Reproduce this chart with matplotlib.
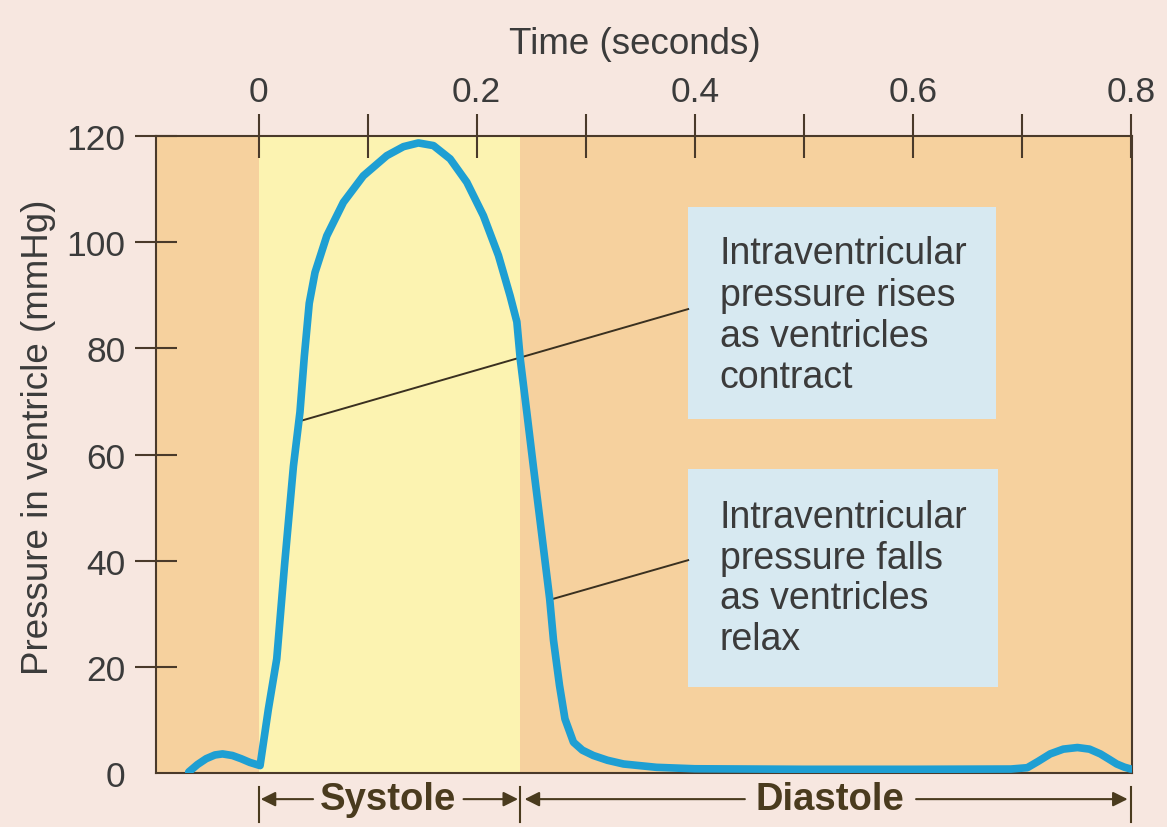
import matplotlib.pyplot as plt
import matplotlib.transforms as mtransforms
from matplotlib.patches import Rectangle

# pressure curve (time in s, pressure in mmHg)
time_s = [-0.064, -0.056, -0.048, -0.040, -0.033, -0.024, -0.016, -0.008, 0.0014,
          0.009, 0.0167, 0.024, 0.032, 0.038, 0.042, 0.0465, 0.0518, 0.0626, 0.0778,
          0.0961, 0.1176, 0.1329, 0.1466, 0.1604, 0.1757, 0.191, 0.2062, 0.220,
          0.2307, 0.2369, 0.240, 0.246, 0.252, 0.260, 0.267, 0.2705, 0.276, 0.281,
          0.2888, 0.297, 0.307, 0.320, 0.3347, 0.365, 0.40, 0.50, 0.60, 0.690, 0.705,
          0.715, 0.726, 0.738, 0.751, 0.762, 0.772, 0.780, 0.787, 0.794, 0.800]
pressure = [0.2, 1.6, 2.7, 3.4, 3.6, 3.3, 2.7, 2.0, 1.4,
            12.0, 21.5, 39.5, 57.8, 68.0, 78.5, 88.5, 94.3, 101.2, 107.5,
            112.5, 116.3, 118.0, 118.7, 118.2, 115.7, 111.3, 105.0, 97.5,
            89.9, 85.0, 78.0, 68.0, 57.8, 44.5, 32.8, 25.0, 16.5, 10.2,
            5.8, 4.3, 3.3, 2.4, 1.7, 1.07, 0.8, 0.7, 0.7, 0.75, 1.0,
            2.2, 3.6, 4.5, 4.8, 4.5, 3.6, 2.6, 1.7, 1.1, 0.75]

x_ticks = [0, 0.1, 0.2, 0.3, 0.4, 0.5, 0.6, 0.7, 0.8]
x_ticklabels = ["0", "", "0.2", "", "0.4", "", "0.6", "", "0.8"]
y_ticks = [0, 20, 40, 60, 80, 100, 120]

systole = (0.0, 0.24)
diastole = (0.24, 0.80)

note_rise = "Intraventricular\npressure rises\nas ventricles\ncontract"
note_fall = "Intraventricular\npressure falls\nas ventricles\nrelax"

bg = "#f7e7e0"
tan = "#f6d19e"
yellow = "#fcf3b1"
boxblue = "#d7e9f1"
curve = "#1e9fd3"
ink = "#3b3b3b"
brown = "#4a3b1e"

plt.rcParams['font.family'] = ['Liberation Sans', 'DejaVu Sans']

fig = plt.figure(figsize=(11.67, 8.28), dpi=100, facecolor=bg)
ax = fig.add_axes([0.1337, 0.0652, 0.8363, 0.7693])
ax.set_facecolor(tan)
ax.set_xlim(-0.094, 0.801)
ax.set_ylim(0, 120)

ax.axvspan(systole[0], systole[1], color=yellow, lw=0, zorder=0)

# blue note boxes
ax.add_patch(Rectangle((0.394, 66.7), 0.282, 39.9, facecolor=boxblue, edgecolor='none', zorder=1))
ax.add_patch(Rectangle((0.394, 16.2), 0.284, 41.1, facecolor=boxblue, edgecolor='none', zorder=1))
ax.text(0.423, 101.3, note_rise, fontsize=27, color=ink, va='top', ha='left',
        linespacing=1.19, zorder=2)
ax.text(0.423, 51.6, note_fall, fontsize=27, color=ink, va='top', ha='left',
        linespacing=1.16, zorder=2)

# leader lines
ax.plot([0.038, 0.394], [66.3, 87.4], color="#3a3020", lw=1.4, zorder=2)
ax.plot([0.270, 0.394], [32.8, 40.1], color="#3a3020", lw=1.4, zorder=2)

ax.plot(time_s, pressure, color=curve, lw=5.5, solid_capstyle='round',
        solid_joinstyle='round', zorder=3)

# axes styling
for side in ['left', 'top', 'right', 'bottom']:
    ax.spines[side].set_color("#4a3a2a")
    ax.spines[side].set_linewidth(1.5)

ax.xaxis.tick_top()
ax.set_xticks(x_ticks)
ax.set_xticklabels(x_ticklabels)
ax.set_yticks(y_ticks)
ax.tick_params(axis='x', direction='inout', length=31, width=1.5, pad=5,
               labelsize=25.5, labelcolor=ink, color="#4a3a2a")
ax.tick_params(axis='y', direction='inout', length=30, width=1.5, pad=7,
               labelsize=25.5, labelcolor=ink, color="#4a3a2a")
ax.yaxis.get_major_ticks()[0].tick1line.set_visible(False)

ax.set_xlabel("Time (seconds)", fontsize=26.5, color=ink)
ax.xaxis.set_label_position('top')
ax.xaxis.set_label_coords(0.491, 1.131)
ax.set_ylabel("Pressure in ventricle (mmHg)", fontsize=26.5, color=ink)
ax.yaxis.set_label_coords(-0.102, 0.529)

# systole / diastole brackets below the axis
trans = mtransforms.blended_transform_factory(ax.transData, ax.transAxes)
arrow_y = -0.041
for xb in [systole[0], systole[1], diastole[1]]:
    ax.plot([xb, xb], [-0.022, -0.077], transform=trans, color=brown, lw=1.5, clip_on=False)

aprops = dict(arrowstyle='-|>', color=brown, lw=1.5, mutation_scale=22,
              shrinkA=0, shrinkB=0)
ax.text(0.119, arrow_y, "Systole", transform=trans, fontsize=27.5, fontweight='bold',
        color=brown, ha='center', va='center')
ax.annotate("", xy=(systole[0] + 0.002, arrow_y), xytext=(0.050, arrow_y),
            xycoords=trans, textcoords=trans, arrowprops=aprops, annotation_clip=False)
ax.annotate("", xy=(systole[1] - 0.002, arrow_y), xytext=(0.188, arrow_y),
            xycoords=trans, textcoords=trans, arrowprops=aprops, annotation_clip=False)

ax.text(0.524, arrow_y, "Diastole", transform=trans, fontsize=27.5, fontweight='bold',
        color=brown, ha='center', va='center')
ax.annotate("", xy=(diastole[0] + 0.004, arrow_y), xytext=(0.446, arrow_y),
            xycoords=trans, textcoords=trans, arrowprops=aprops, annotation_clip=False)
ax.annotate("", xy=(diastole[1] - 0.003, arrow_y), xytext=(0.603, arrow_y),
            xycoords=trans, textcoords=trans, arrowprops=aprops, annotation_clip=False)

fig.savefig("out.png", dpi=100, facecolor=bg)
